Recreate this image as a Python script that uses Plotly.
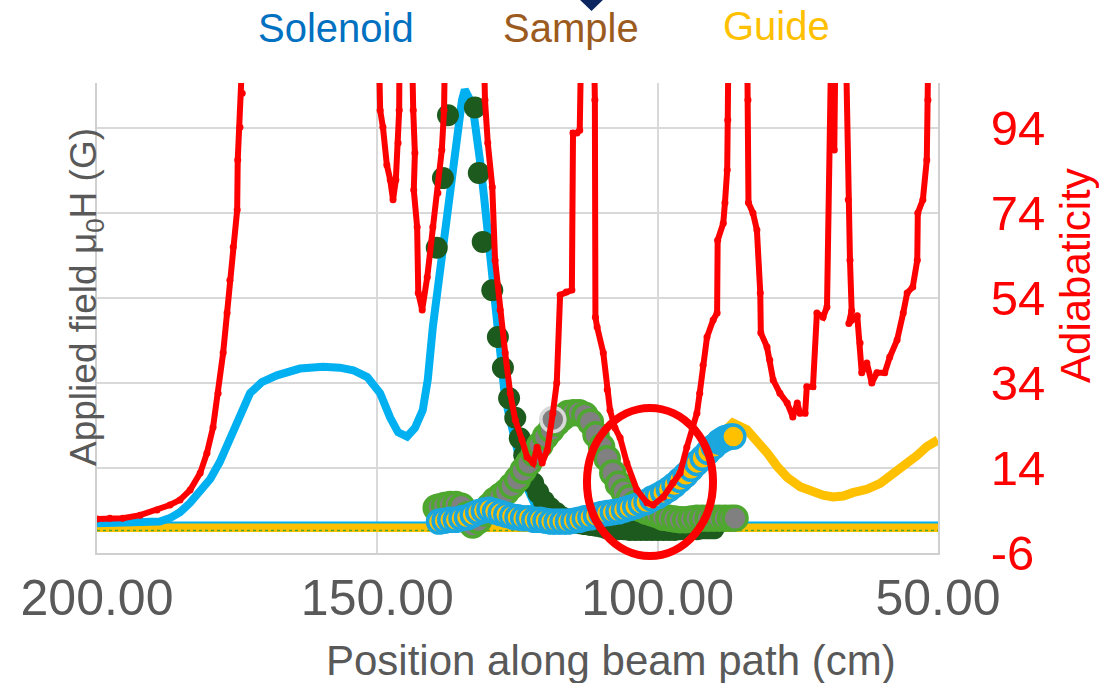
import plotly.graph_objects as go

# ---------------- data ----------------
# Solenoid field (G), calculated
sol_x = [200.0, 195.9, 191.8, 188.8, 187.0, 185.2, 183.4, 181.6, 179.8, 178.1, 176.3, 174.5, 172.7, 170.6,
         167.9, 163.8, 159.7, 156.7, 154.3, 151.8, 149.5, 147.7, 146.3, 144.7, 143.3, 141.9, 141.0, 140.1,
         139.2, 138.3, 137.4, 136.5, 135.6, 134.9, 134.4, 133.6, 132.9, 132.2, 131.7, 131.0, 130.4, 129.9,
         129.4, 128.7, 128.1, 127.4, 126.7, 125.8, 125.1, 124.2, 123.1, 121.9, 120.5, 118.8, 116.5]
sol_y = [0.05, 0.05, 0.06, 0.07, 0.11, 0.18, 0.29, 0.42, 0.57, 0.77, 1.03, 1.34, 1.58, 1.71,
         1.79, 1.87, 1.89, 1.88, 1.85, 1.77, 1.58, 1.29, 1.12, 1.07, 1.17, 1.38, 1.74, 2.36,
         2.83, 3.30, 3.79, 4.21, 4.74, 5.03, 5.15, 5.05, 4.91, 4.62, 4.32, 3.91, 3.54, 3.15,
         2.76, 2.32, 1.97, 1.64, 1.38, 1.12, 0.91, 0.68, 0.44, 0.27, 0.15, 0.09, 0.05]

# flat field components along the beam path
base_x = [200.0, 50.0]
base_sol = [0.06, 0.06]
base_guide = [0.0, 0.0]
base_green = [-0.035, -0.035]

# Solenoid field, measured (dark green)
meas_sol_x = [139.4, 138.3, 137.4, 132.6, 131.9, 131.2, 129.5, 128.5, 127.6, 126.5, 125.4, 124.6, 123.8,
              123.1, 122.2, 121.3, 120.3, 119.2, 118.1, 117.1, 116.0, 115.0, 114.0, 113.0, 112.0, 111.0,
              110.0, 109.0, 108.0, 107.0, 106.0, 105.0, 104.0, 103.0, 102.0, 101.0, 100.0, 99.0, 98.0,
              97.0, 96.0, 95.0, 94.0, 93.0, 92.0, 91.0, 90.0]
meas_sol_y = [3.29, 4.11, 4.85, 4.94, 4.17, 3.36, 2.79, 2.24, 1.88, 1.52, 1.29, 1.05, 0.85,
              0.70, 0.52, 0.41, 0.31, 0.23, 0.17, 0.12, 0.09, 0.08, 0.05, 0.04, 0.03, 0.02,
              0.01, -0.01, -0.01, -0.02, -0.02, -0.03, -0.03, -0.03, -0.03, -0.03, -0.03, -0.03, -0.03,
              -0.03, -0.02, -0.02, -0.02, -0.02, -0.01, -0.01, -0.01]

# Sample field, measured (grey / green)
samp_x = [139.5, 139, 138, 137, 136, 135, 134, 133, 132, 131, 130, 129, 128, 127, 126, 125, 124, 123,
          122, 121, 120, 119, 118, 117, 116, 115, 114, 113, 112, 111, 110, 109, 108, 107, 106, 105,
          104, 103, 102, 101, 100, 99, 98, 97, 96, 95, 94, 93, 92, 91, 90, 89, 88, 87, 86.2]
samp_y = [0.23, 0.24, 0.26, 0.27, 0.27, 0.25, 0.15, 0.03, 0.08, 0.17, 0.25, 0.32, 0.37, 0.42, 0.49,
          0.57, 0.67, 0.76, 0.87, 0.97, 1.07, 1.15, 1.23, 1.29, 1.34, 1.35, 1.35, 1.32, 1.24, 1.09,
          0.95, 0.81, 0.64, 0.51, 0.42, 0.35, 0.28, 0.22, 0.19, 0.17, 0.15, 0.12, 0.11, 0.10, 0.09,
          0.09, 0.10, 0.11, 0.11, 0.11, 0.11, 0.11, 0.11, 0.11, 0.11]
samp_hl_x = [118.7]
samp_hl_y = [1.27]

# Guide field, measured (yellow / blue)
guide_m_x = [139, 138, 137, 136, 135, 134, 133, 132, 131, 130, 129, 128, 127, 126, 125, 124, 123, 122,
             121, 120, 119, 118, 117, 116, 115, 114, 113, 112, 111, 110, 109, 108, 107, 106, 105, 104,
             103, 102, 101, 100, 99, 98, 97, 96, 95, 94, 93, 92, 91, 90, 89, 88.5, 88, 87.5, 87, 86.5]
guide_m_y = [0.07, 0.08, 0.09, 0.09, 0.11, 0.12, 0.15, 0.18, 0.20, 0.21, 0.19, 0.17, 0.15, 0.13, 0.12,
             0.11, 0.11, 0.09, 0.09, 0.08, 0.07, 0.07, 0.07, 0.07, 0.08, 0.09, 0.11, 0.12, 0.14, 0.16,
             0.17, 0.18, 0.19, 0.21, 0.23, 0.25, 0.28, 0.30, 0.34, 0.37, 0.41, 0.45, 0.50, 0.56, 0.62,
             0.69, 0.76, 0.82, 0.89, 0.95, 1.01, 1.03, 1.05, 1.06, 1.07, 1.07]

# Guide field, calculated
guide_x = [139, 130, 120, 115, 110, 105, 100, 95, 92, 90, 88.3, 86.6, 84.1, 82.3, 80.5, 78.7, 76.9, 74.6,
           72.3, 70.5, 68.7, 66.9, 65.2, 62.7, 60.3, 58.0, 55.5, 53.7, 52.0, 50.0]
guide_y = [0.06, 0.20, 0.08, 0.08, 0.16, 0.23, 0.37, 0.62, 0.82, 0.95, 1.12, 1.23, 1.15, 1.03, 0.88,
           0.72, 0.59, 0.48, 0.42, 0.38, 0.36, 0.37, 0.41, 0.45, 0.52, 0.63, 0.76, 0.85, 0.95, 1.03]

# Adiabaticity (values above the axis maximum are off-scale)
adia_x = [200.0, 197.7, 195.4, 192.3, 189.3, 187.0, 185.2, 183.4, 181.6, 180.4, 179.3, 178.4, 177.5, 176.8,
          176.3, 175.7, 175.0, 174.9, 174.5, 174.1, 173.6, 149.9, 149.5, 149.0, 148.3, 147.7, 147.2, 146.7,
          146.3, 146.1, 146.0, 144.0, 143.6, 143.3, 143.5, 142.9, 142.7, 142.0, 141.1, 140.1, 139.2, 138.5,
          138.1, 137.8, 131.2, 130.8, 130.3, 129.5, 129.0, 128.1, 127.2, 126.3, 125.4, 124.2, 123.3, 122.2,
          121.5, 120.6, 119.7, 118.7, 118.0, 117.4, 116.3, 115.3, 115.1, 114.4, 113.9, 113.5, 111.5, 111.2,
          111.1, 110.8, 109.7, 109.0, 108.5, 107.6, 106.7, 105.5, 103.7, 101.9, 100.8, 99.0, 97.3, 96.0,
          94.8, 93.7, 93.0, 92.5, 91.9, 91.2, 90.1, 89.4, 89.3, 88.3, 88.0, 87.6, 87.5, 87.3, 84.1, 83.9,
          83.8, 83.0, 82.3, 81.7, 81.6, 80.5, 80.0, 79.4, 78.2, 76.9, 75.9, 75.1, 74.6, 73.7, 73.4, 72.3,
          71.6, 70.5, 69.8, 69.4, 68.9, 68.5, 68.2, 66.6, 66.0, 65.7, 65.4, 65.9, 64.4, 63.9, 63.6, 62.7,
          61.8, 60.9, 59.5, 58.6, 57.3, 56.2, 55.5, 54.5, 53.7, 53.6, 52.7, 52.0, 51.8, 51.6, 50.0]
adia_y = [2.0, 2.2, 2.2, 2.9, 4.1, 5.3, 6.5, 8.8, 12.8, 17.5, 23.6, 31.6, 41.1, 50.5,
          58.2, 66.0, 74.7, 86.5, 94.2, 102.2, 125, 125, 98.2, 94.2, 85.3, 81.8, 77.1, 81.8,
          90.5, 98.2, 125, 125, 98.2, 88.1, 79.4, 70.7, 55.2, 51.2, 58.9, 70.7, 78.7, 88.8,
          98.2, 125, 125, 100.6, 90.5, 80.1, 62.9, 51.2, 41.1, 31.6, 25.3, 20.6, 16.6, 15.2,
          18.9, 15.2, 18.2, 26.9, 34.0, 54.7, 55.4, 55.9, 92.8, 92.8, 93.5, 125, 125, 100.6,
          49.5, 47.2, 41.1, 32.4, 27.6, 23.4, 21.1, 15.2, 8.8, 5.8, 5.3, 7.2, 10.5, 12.8,
          18.9, 23.6, 26.9, 31.6, 38.2, 44.8, 48.8, 50.5, 67.6, 71.6, 76.4, 84.1, 95.9, 125, 125, 100.6,
          76.4, 74.0, 70.0, 55.2, 45.8, 42.5, 39.4, 34.7, 31.6, 29.3, 26.0, 29.3, 26.9, 26.9, 33.1, 33.1,
          50.5, 49.5, 51.9, 125, 125, 88.8, 125, 125, 77.1, 62.9, 51.0, 48.0, 49.8, 43.4, 36.4, 38.7,
          34.0, 36.4, 36.4, 40.1, 44.1, 50.5, 55.2, 56.6, 62.9, 74.0, 77.1, 86.5, 100.6, 125, 125]

# axis ticks
x_ticks = [200, 150, 100, 50]
x_tick_text = ["200.00", "150.00", "100.00", "50.00"]
y2_ticks = [-6, 14, 34, 54, 74, 94]
y2_tick_text = ["-6", "14", "34", "54", "74", "94"]

legend_labels = ["Solenoid", "Sample", "Guide"]
legend_colors = ["#0070C0", "#9C5B1E", "#FFC000"]

# ---------------- figure ----------------
fig = go.Figure()

fig.add_trace(go.Scatter(x=base_x, y=base_guide, mode="lines", line=dict(color="#FFC000", width=9),
                         yaxis="y", hoverinfo="skip"))
fig.add_trace(go.Scatter(x=base_x, y=base_green, mode="lines",
                         line=dict(color="#4EA72E", width=1.5, dash="dot"), yaxis="y", hoverinfo="skip"))
fig.add_trace(go.Scatter(x=base_x, y=base_sol, mode="lines", line=dict(color="#00B0F0", width=2),
                         yaxis="y", hoverinfo="skip"))
fig.add_trace(go.Scatter(x=sol_x, y=sol_y, mode="lines", line=dict(color="#00B0F0", width=8),
                         yaxis="y"))
fig.add_trace(go.Scatter(x=guide_x, y=guide_y, mode="lines", line=dict(color="#FFC000", width=9),
                         yaxis="y"))
fig.add_trace(go.Scatter(x=meas_sol_x, y=meas_sol_y, mode="markers",
                         marker=dict(color="#1C5A1E", size=22, line=dict(width=0)), yaxis="y"))
fig.add_trace(go.Scatter(x=samp_x, y=samp_y, mode="markers",
                         marker=dict(color="#808080", size=24, line=dict(color="#4EA72E", width=3.5)),
                         yaxis="y"))
fig.add_trace(go.Scatter(x=samp_hl_x, y=samp_hl_y, mode="markers",
                         marker=dict(color="#808080", size=24, line=dict(color="#D9D9D9", width=3.5)),
                         yaxis="y"))
fig.add_trace(go.Scatter(x=guide_m_x, y=guide_m_y, mode="markers",
                         marker=dict(color="#FFC000", size=23, line=dict(color="#1AA7E0", width=3.5)),
                         yaxis="y"))
fig.add_trace(go.Scatter(x=adia_x, y=adia_y, mode="lines+markers",
                         line=dict(color="#FF0000", width=6), marker=dict(color="#FF0000", size=7),
                         yaxis="y2"))

axis_font = "Liberation Sans, Arial, sans-serif"
fig.update_layout(
    width=1099, height=683,
    margin=dict(l=97, r=161, t=83, b=130),
    paper_bgcolor="white", plot_bgcolor="white",
    showlegend=False,
    font=dict(family=axis_font, color="#595959"),
    xaxis=dict(range=[200, 50], tickvals=x_ticks, ticktext=x_tick_text,
               showgrid=True, gridcolor="#D9D9D9", gridwidth=2,
               showline=True, linecolor="#D0D0D0", linewidth=2, zeroline=False,
               ticks="", tickfont=dict(size=50, color="#595959"), ticklabelstandoff=0),
    yaxis=dict(range=[-0.3, 5.229], showgrid=False, zeroline=False, showticklabels=False,
               showline=True, linecolor="#D0D0D0", linewidth=2, ticks=""),
    yaxis2=dict(range=[-6, 104.59], overlaying="y", side="right", tickvals=y2_ticks,
                ticktext=y2_tick_text,
                showgrid=True, gridcolor="#D9D9D9", gridwidth=2, zeroline=False,
                showline=True, linecolor="#D0D0D0", linewidth=2, ticks="",
                tickfont=dict(size=49, color="#FF0000"), ticklabelstandoff=41),
)

annotations = [
    dict(text="Position along beam path (cm)", x=0.6112, y=-0.2277, xref="paper", yref="paper",
         xanchor="center", yanchor="middle", showarrow=False, font=dict(size=42, color="#595959")),
    dict(text="Applied field μ<sub>0</sub>H (G)", x=-0.0131, y=0.5447, xref="paper", yref="paper",
         xanchor="center", yanchor="middle", textangle=-90, showarrow=False,
         font=dict(size=37, color="#595959")),
    dict(text="Adiabaticity", x=1.1641, y=0.5894, xref="paper", yref="paper",
         xanchor="center", yanchor="middle", textangle=-90, showarrow=False,
         font=dict(size=42, color="#FF0000")),
]
leg_pos = [(0.2842, 1.117), (0.5636, 1.117), (0.8074, 1.121)]
for lab, col, (lx, ly) in zip(legend_labels, legend_colors, leg_pos):
    annotations.append(dict(text=lab, x=lx, y=ly, xref="paper", yref="paper", xanchor="center",
                            yanchor="middle", showarrow=False, font=dict(size=40, color=col)))
fig.update_layout(annotations=annotations)

fig.add_shape(type="circle", xref="paper", yref="paper", x0=0.5826, x1=0.7325, y0=-0.0064, y1=0.3085,
              line=dict(color="#FF0000", width=8), layer="above")
fig.add_shape(type="path", xref="paper", yref="paper",
              path="M 0.5719 1.181 L 0.6040 1.181 L 0.5880 1.153 Z",
              fillcolor="#0B2560", line=dict(width=0), layer="above")

fig.write_html("out.html")
